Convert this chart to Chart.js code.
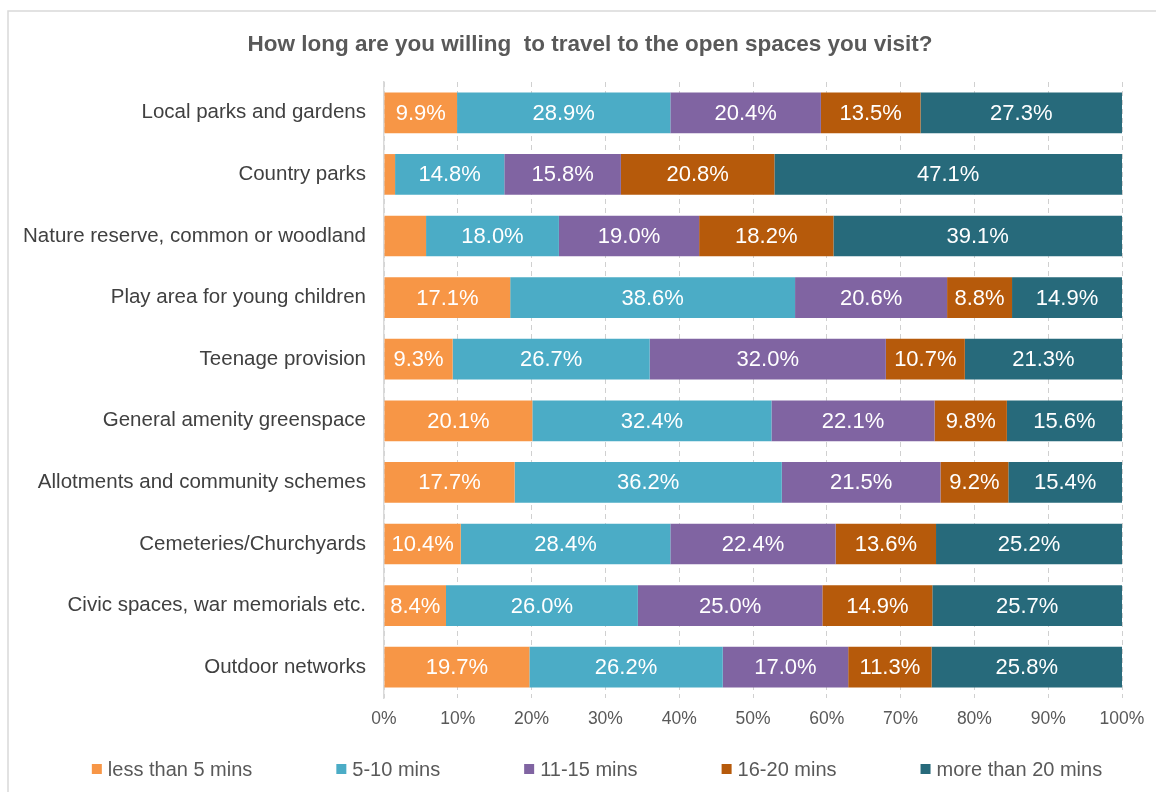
<!DOCTYPE html>
<html>
<head>
<meta charset="utf-8">
<script src="https://cdn.jsdelivr.net/npm/chart.js@4"></script>
<style>
  html, body { margin: 0; padding: 0; background: #fff; overflow: hidden; }
  #wrap { position: relative; width: 1180px; height: 792px; }
</style>
</head>
<body>
<div id="wrap"><canvas id="c" width="1180" height="792"></canvas></div>
<script>
const titleText = 'How long are you willing  to travel to the open spaces you visit?';

const categories = [
  'Local parks and gardens',
  'Country parks',
  'Nature reserve, common or woodland',
  'Play area for young children',
  'Teenage provision',
  'General amenity greenspace',
  'Allotments and community schemes',
  'Cemeteries/Churchyards',
  'Civic spaces, war memorials etc.',
  'Outdoor networks'
];

const seriesNames = ['less than 5 mins', '5-10 mins', '11-15 mins', '16-20 mins', 'more than 20 mins'];

const lessThan5  = [9.9, 1.5, 5.7, 17.1, 9.3, 20.1, 17.7, 10.4, 8.4, 19.7];
const mins5to10  = [28.9, 14.8, 18.0, 38.6, 26.7, 32.4, 36.2, 28.4, 26.0, 26.2];
const mins11to15 = [20.4, 15.8, 19.0, 20.6, 32.0, 22.1, 21.5, 22.4, 25.0, 17.0];
const mins16to20 = [13.5, 20.8, 18.2, 8.8, 10.7, 9.8, 9.2, 13.6, 14.9, 11.3];
const moreThan20 = [27.3, 47.1, 39.1, 14.9, 21.3, 15.6, 15.4, 25.2, 25.7, 25.8];

const xTickValues = [0, 10, 20, 30, 40, 50, 60, 70, 80, 90, 100];

const colors = ['#F79646', '#4BACC6', '#8064A2', '#B65A0B', '#276A7B'];
const seriesValues = [lessThan5, mins5to10, mins11to15, mins16to20, moreThan20];

const FONT = '"Liberation Sans", Arial, sans-serif';
const GREY = '#595959';

// Frame, title, in-bar value labels and the legend row
const decorations = {
  id: 'decorations',
  beforeDraw(chart) {
    const ctx = chart.ctx;
    ctx.save();
    ctx.fillStyle = '#ffffff';
    ctx.fillRect(0, 0, chart.width, chart.height);
    ctx.strokeStyle = '#d9d9d9';
    ctx.lineWidth = 1.5;
    ctx.strokeRect(8, 11, chart.width + 20, chart.height + 20);
    ctx.restore();
  },
  afterDatasetsDraw(chart) {
    const ctx = chart.ctx;
    ctx.save();
    // value labels centred in each segment
    ctx.font = '22px ' + FONT;
    ctx.fillStyle = '#ffffff';
    ctx.textAlign = 'center';
    ctx.textBaseline = 'middle';
    chart.data.datasets.forEach((ds, di) => {
      const meta = chart.getDatasetMeta(di);
      meta.data.forEach((bar, i) => {
        const v = ds.data[i];
        if (v < 6) return;
        const cx = (bar.x + bar.base) / 2;
        ctx.fillText(v.toFixed(1) + '%', cx, bar.y + 1);
      });
    });
    ctx.restore();
  },
  afterDraw(chart) {
    const ctx = chart.ctx;
    ctx.save();
    // title
    ctx.font = 'bold 22.5px ' + FONT;
    ctx.fillStyle = GREY;
    ctx.textAlign = 'center';
    ctx.textBaseline = 'middle';
    ctx.fillText(titleText, 590, 45);

    // legend
    ctx.font = '20px ' + FONT;
    const box = 10, gapText = 6, gapItem = 84;
    const widths = chart.data.datasets.map(d => box + gapText + ctx.measureText(d.label).width);
    const total = widths.reduce((a, b) => a + b, 0) + gapItem * (widths.length - 1);
    let x = 597 - total / 2;
    const y = 769;
    ctx.textAlign = 'left';
    chart.data.datasets.forEach((d, i) => {
      ctx.fillStyle = d.backgroundColor;
      ctx.fillRect(x, y - box / 2, box, box);
      ctx.fillStyle = GREY;
      ctx.fillText(d.label, x + box + gapText, y + 1);
      x += widths[i] + gapItem;
    });
    ctx.restore();
  }
};

new Chart(document.getElementById('c'), {
  type: 'bar',
  data: {
    labels: categories,
    datasets: seriesValues.map((vals, i) => ({
      label: seriesNames[i],
      data: vals,
      backgroundColor: colors[i],
      borderWidth: 0,
      categoryPercentage: 1,
      barPercentage: 0.66
    }))
  },
  options: {
    indexAxis: 'y',
    responsive: false,
    animation: false,
    layout: { padding: { top: 82, right: 58, bottom: 0, left: 0 } },
    plugins: {
      legend: { display: false },
      title: { display: false },
      tooltip: { enabled: false }
    },
    scales: {
      x: {
        stacked: true,
        min: 0,
        max: 100,
        afterBuildTicks(scale) { scale.ticks = xTickValues.map(v => ({ value: v })); },
        afterFit(scale) { scale.height = 94; },
        ticks: {
          callback: v => v + '%',
          color: GREY,
          font: { family: FONT, size: 17.5 },
          padding: 11,
          maxRotation: 0
        },
        grid: {
          color: '#d0d0d0',
          lineWidth: 1,
          drawTicks: false
        },
        border: { display: false, dash: [5, 4] }
      },
      y: {
        stacked: true,
        afterFit(scale) { scale.width = 384; },
        ticks: {
          color: '#404040',
          font: { family: FONT, size: 20.5 },
          padding: 18
        },
        grid: { display: false, drawTicks: false },
        border: { display: true, color: '#d9d9d9', width: 1.5 }
      }
    }
  },
  plugins: [decorations]
});
</script>
</body>
</html>
